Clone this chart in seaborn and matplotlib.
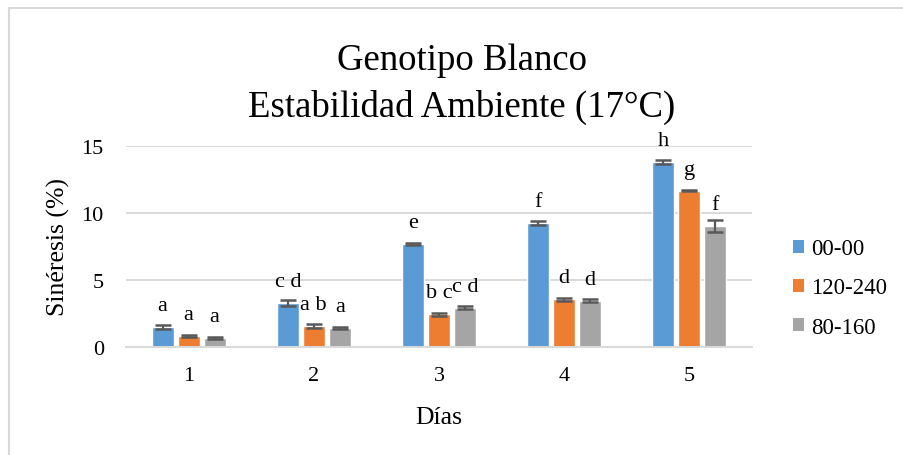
import matplotlib
matplotlib.use("Agg")
import matplotlib.pyplot as plt
from matplotlib.patches import Rectangle, Patch
import seaborn as sns
import pandas as pd

# Days and treatment series
dias = ["1", "2", "3", "4", "5"]
tratamientos = ["00-00", "120-240", "80-160"]

# Mean syneresis (%) per treatment, one value per day
media_00_00 = [1.50, 3.30, 7.68, 9.27, 13.80]
media_120_240 = [0.82, 1.57, 2.43, 3.55, 11.65]
media_80_160 = [0.69, 1.44, 2.93, 3.45, 9.02]

# Standard deviations (error bars)
de_00_00 = [0.15, 0.22, 0.05, 0.17, 0.12]
de_120_240 = [0.05, 0.15, 0.10, 0.10, 0.03]
de_80_160 = [0.08, 0.07, 0.12, 0.10, 0.43]

# Significance letters
letras_00_00 = ["a", "c d", "e", "f", "h"]
letras_120_240 = ["a", "a b", "b c", "d", "g"]
letras_80_160 = ["a", "a", "c d", "d", "f"]

colores = ["#5B9BD5", "#ED7D31", "#A5A5A5"]

medias = [media_00_00, media_120_240, media_80_160]
errores = [de_00_00, de_120_240, de_80_160]
letras = [letras_00_00, letras_120_240, letras_80_160]

df = pd.DataFrame({
    "Días": [d for _ in tratamientos for d in dias],
    "Tratamiento": [t for t in tratamientos for _ in dias],
    "Sinéresis": [v for serie in medias for v in serie],
})

sns.set_style("white")
plt.rcParams["font.family"] = ["Liberation Serif", "DejaVu Serif"]
plt.rcParams["text.color"] = "black"
plt.rcParams["axes.labelcolor"] = "black"

fig = plt.figure(figsize=(9.04, 4.56), dpi=100)
W, H = 904, 456
ax = fig.add_axes([126 / W, 1 - 348 / H, 626 / W, 201 / H])

sns.barplot(data=df, x="Días", y="Sinéresis", hue="Tratamiento",
            order=dias, hue_order=tratamientos, palette=colores,
            saturation=1, width=0.624, gap=0.154, errorbar=None,
            legend=False, ax=ax)

for cont, err, lab in zip(ax.containers, errores, letras):
    xs = [b.get_x() + b.get_width() / 2 for b in cont]
    ys = [b.get_height() for b in cont]
    ax.errorbar(xs, ys, yerr=err, fmt="none", ecolor="#595959",
                elinewidth=1.6, capsize=5.5, capthick=1.8, zorder=4)
    for x, y, t in zip(xs, ys, lab):
        ax.annotate(t, (x, y), xytext=(0, 17), textcoords="offset pixels",
                    ha="center", va="baseline", fontsize=16, color="black",
                    annotation_clip=False)

ax.set_xlim(-0.5, 4.5)
ax.set_ylim(0, 15)
ax.set_yticks([0, 5, 10, 15])
ax.set_axisbelow(True)
ax.yaxis.grid(True, color="#D9D9D9", linewidth=1.4)
ax.xaxis.grid(False)
for s in ["left", "right", "top"]:
    ax.spines[s].set_visible(False)
ax.spines["bottom"].set_color("#D9D9D9")
ax.spines["bottom"].set_linewidth(1.4)
ax.tick_params(axis="both", length=0, labelsize=16, colors="black")
ax.tick_params(axis="y", pad=16)
ax.tick_params(axis="x", pad=14)
ax.set_xlabel("Días", fontsize=18.5, labelpad=15)
ax.set_ylabel("Sinéresis (%)", fontsize=18.5, labelpad=8)

# Titles
fig.text(462 / W, 1 - 70 / H, "Genotipo Blanco", ha="center", va="baseline",
         fontsize=26.5)
fig.text(462 / W, 1 - 117 / H, "Estabilidad Ambiente (17°C)", ha="center",
         va="baseline", fontsize=26.5)

# Legend
handles = [Patch(facecolor=c, edgecolor="none") for c in colores]
fig.legend(handles, tratamientos, loc="center left",
           bbox_to_anchor=(793 / W, 1 - 289 / H), frameon=False,
           fontsize=16.5, handlelength=0.5, handleheight=0.5,
           handletextpad=0.3, labelspacing=0.8, borderpad=0,
           borderaxespad=0)

# Chart-area border
fig.patches.append(Rectangle((9 / W, -0.1), 1.2, 1 - 9 / H + 0.1,
                             transform=fig.transFigure, fill=False,
                             edgecolor="#D9D9D9", linewidth=1.5))

fig.savefig("out.png", dpi=100)
